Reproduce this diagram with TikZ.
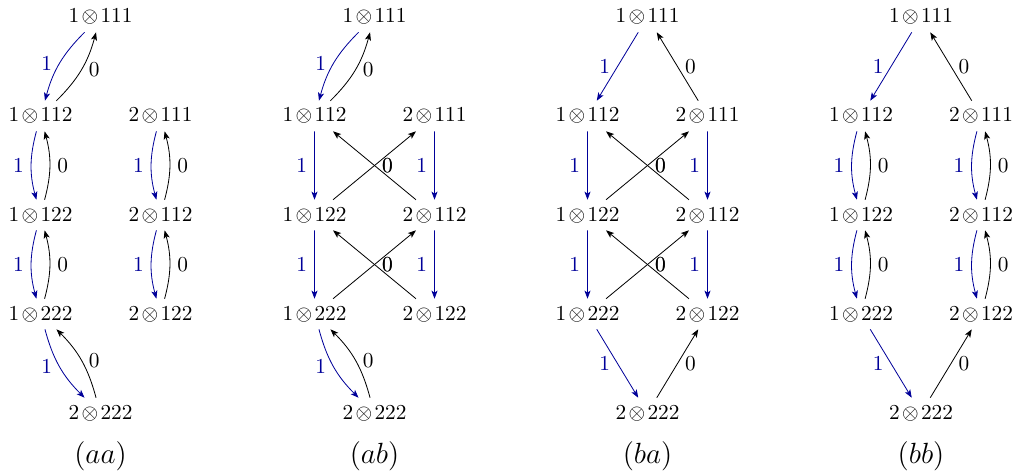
\documentclass[tikz,border=0pt]{standalone}
\usetikzlibrary{arrows.meta}
\definecolor{myblue}{rgb}{0,0,0.6}
\tikzset{
  st/.style={inner sep=0.3333em, anchor=base, scale=1.05},
  tipstyle/.style={-{Stealth[length=4pt,width=3pt,inset=1pt]}},
  one/.style={draw=myblue, tipstyle},
  zero/.style={draw=black, tipstyle},
  lone/.style={midway, left, text=myblue, scale=1.05},
  lzero/.style={midway, right, scale=1.05},
  capt/.style={anchor=base, font=\Large}
}
\newcommand\ot{\mskip2mu{\otimes}\mskip2mu}
\newcommand\mkpanel[3]{%
  \node[st] (#1t)  at (#2,23) {$1\ot111$};
  \node[st] (#1l1) at ({#2-60},122) {$1\ot112$};
  \node[st] (#1r1) at ({#2+60},122) {$2\ot111$};
  \node[st] (#1l2) at ({#2-60},221) {$1\ot122$};
  \node[st] (#1r2) at ({#2+60},221) {$2\ot112$};
  \node[st] (#1l3) at ({#2-60},320) {$1\ot222$};
  \node[st] (#1r3) at ({#2+60},320) {$2\ot122$};
  \node[st] (#1b)  at (#2,419) {$2\ot222$};
  \node[capt] (#1c) at (#2,463) {$(#3)$};
}
\newcommand\cpair[2]{%
  \draw[one] (#1) to[bend right=15] node[lone]{1} (#2);
  \draw[zero] (#2) to[bend right=15] node[lzero]{0} (#1);
}
\newcommand\sone[2]{\draw[one] (#1) -- node[lone]{1} (#2);}
\newcommand\szero[2]{\draw[zero] (#1) -- node[lzero]{0} (#2);}
\newcommand\crossmid[1]{%
  \sone{#1l1}{#1l2}\sone{#1r1}{#1r2}\sone{#1l2}{#1l3}\sone{#1r2}{#1r3}
  \szero{#1l2}{#1r1}\szero{#1r2}{#1l1}\szero{#1l3}{#1r2}\szero{#1r3}{#1l2}
}
\begin{document}
\begin{tikzpicture}[x=0.4926pt,y=-0.4926pt]
\useasboundingbox (0,0) rectangle (1014,475);
% (aa)
\mkpanel{aa}{100.5}{aa}
\cpair{aat}{aal1}
\cpair{aal1}{aal2}
\cpair{aal2}{aal3}
\cpair{aar1}{aar2}
\cpair{aar2}{aar3}
\cpair{aal3}{aab}
% (ab)
\mkpanel{ab}{374.5}{ab}
\cpair{abt}{abl1}
\crossmid{ab}
\cpair{abl3}{abb}
% (ba)
\mkpanel{ba}{647.5}{ba}
\sone{bat}{bal1}
\szero{bar1}{bat}
\crossmid{ba}
\sone{bal3}{bab}
\szero{bab}{bar3}
% (bb)
\mkpanel{bb}{921}{bb}
\sone{bbt}{bbl1}
\szero{bbr1}{bbt}
\cpair{bbl1}{bbl2}
\cpair{bbl2}{bbl3}
\cpair{bbr1}{bbr2}
\cpair{bbr2}{bbr3}
\sone{bbl3}{bbb}
\szero{bbb}{bbr3}
\end{tikzpicture}
\end{document}
